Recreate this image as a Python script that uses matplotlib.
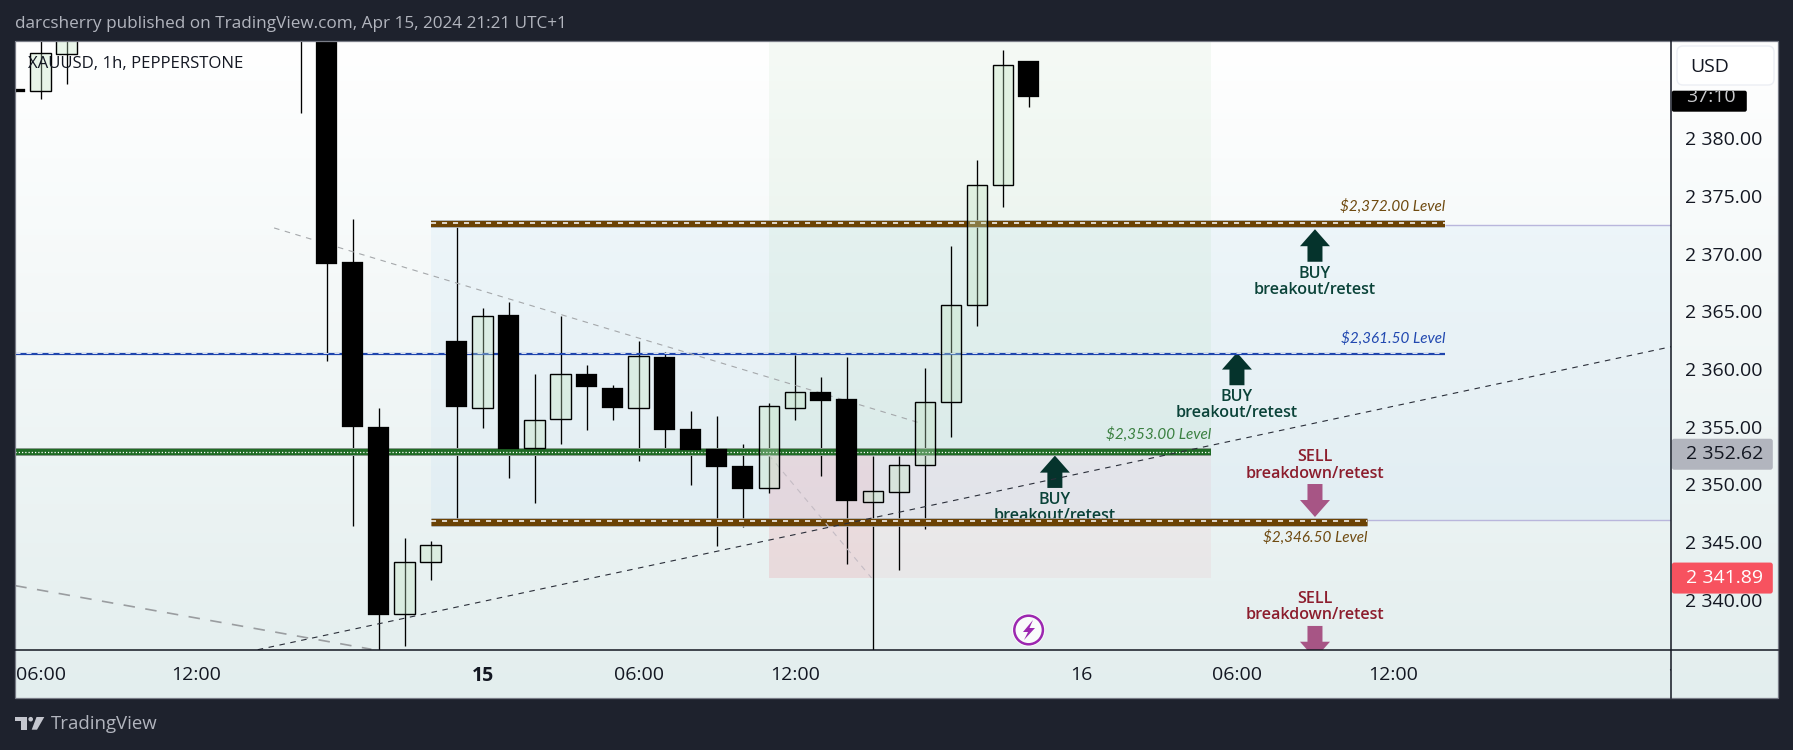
import numpy as np
import matplotlib
matplotlib.use("Agg")
import matplotlib.pyplot as plt
from matplotlib.colors import LinearSegmentedColormap
from matplotlib.patches import Circle, FancyBboxPatch, Polygon, Rectangle
from matplotlib.transforms import Bbox

W, H = 1793, 750
FONT = "Open Sans"

# hourly candles, bar 0 = Apr 15 00:00
bar_index = [-18, -17, -16, -7, -6, -5, -4, -3, -2, -1, 0, 1, 2, 3, 4, 5, 6, 7, 8, 9, 10, 11, 12, 13, 14, 15, 16, 17, 18, 19, 20, 21]
opens = [2384.27, 2384.07, 2387.28, 2400.00, 2395.00, 2369.28, 2354.98, 2338.75, 2343.31, 2362.44, 2356.66, 2364.69, 2353.14, 2355.65, 2359.58, 2358.36,
         2356.60, 2361.05, 2354.81, 2353.08, 2351.60, 2349.72, 2356.66, 2358.02, 2357.41, 2348.51, 2349.38, 2351.66, 2357.12, 2365.53, 2375.93, 2386.70]
closes = [2384.04, 2387.37, 2392.00, 2395.00, 2369.13, 2355.01, 2338.72, 2343.26, 2344.73, 2356.72, 2364.58, 2353.10, 2355.56, 2359.58, 2358.48, 2356.66,
          2361.11, 2354.75, 2353.02, 2351.54, 2349.64, 2356.78, 2357.99, 2357.26, 2348.57, 2349.41, 2351.66, 2357.12, 2365.53, 2375.93, 2386.33, 2383.58]
highs = [2384.27, 2392.00, 2394.00, 2402.00, 2396.00, 2373.01, 2356.63, 2345.36, 2345.10, 2372.34, 2365.27, 2365.81, 2359.58, 2364.60, 2360.36, 2358.62,
         2362.44, 2361.48, 2356.37, 2355.91, 2353.48, 2357.04, 2361.22, 2359.29, 2361.05, 2352.47, 2352.47, 2360.10, 2370.67, 2378.12, 2387.65, 2386.70]
lows = [2384.04, 2383.43, 2384.73, 2382.22, 2360.73, 2346.43, 2335.00, 2336.00, 2341.75, 2346.92, 2354.92, 2350.59, 2348.42, 2353.54, 2354.75, 2355.62,
        2352.06, 2353.19, 2349.98, 2344.70, 2346.34, 2349.29, 2355.62, 2350.76, 2343.14, 2330.00, 2342.62, 2346.17, 2354.14, 2363.76, 2374.07, 2382.74]

price_ticks = [2340, 2345, 2350, 2355, 2360, 2365, 2370, 2375, 2380]
time_ticks = [-17, -11, 0, 6, 12, 23, 29, 35]
time_labels = ["06:00", "12:00", "15", "06:00", "12:00", "16", "06:00", "12:00"]

# level bands: price, right end (bar), label
band_brown_top = 2372.57
band_blue = 2361.31
band_green = 2352.79
band_brown_low = 2346.75
band_left_brown = -2
band_right_top = 37.0
band_right_low = 34.0
band_right_green = 28.0

zone_left, zone_right = 11, 28
zone_mid = 2352.76
zone_low = 2341.87
red_split = 15

box_top = 2372.46
box_low = 2346.90

trend_up_x, trend_up_y = [-8.65, 45.7], [2335.68, 2361.94]
trend_down_x, trend_down_y = [-8.02, 16.87], [2372.23, 2355.29]
trend_red_x, trend_red_y = [11.0, 14.95], [2352.56, 2341.9]
trend_old_x, trend_old_y = [-17.97, -4.28], [2341.23, 2335.72]

buy_x = [32.0, 29.0, 22.0]
buy_tip = [2372.12, 2361.43, 2352.5]
buy_base = [2369.3, 2358.6, 2349.7]
sell_x = [32.0, 32.0]
sell_tip = [2347.18, 2334.9]
sell_base = [2350.04, 2337.74]

last_price = 2352.62
close_price = 2341.89

XMIN, XMAX = -17.97, 45.7
YMIN, YMAX = 2335.63, 2388.43
PANE = (15.3, 41.0, 1671.3, 650.3)


def frac(left, top, right, bottom):
    return [left / W, 1 - bottom / H, (right - left) / W, (bottom - top) / H]


fig = plt.figure(figsize=(W / 100, H / 100), dpi=100, facecolor="#1e222d")

# gradient background, also under the two scales
bg = fig.add_axes(frac(15.3, 41, 1777.7, 697.7), zorder=0)
cmap = LinearSegmentedColormap.from_list("bg", ["#ffffff", "#e3eeee"])
bg.imshow(np.linspace(0, 1, 256).reshape(-1, 1), aspect="auto", cmap=cmap)
bg.axis("off")

ax = fig.add_axes(frac(*PANE), zorder=1)
ax.patch.set_alpha(0)
ax.set_xlim(XMIN, XMAX)
ax.set_ylim(YMIN, YMAX)
for s in ax.spines.values():
    s.set_visible(False)

# tinted zones
ax.fill_between([band_left_brown, XMAX], box_low, box_top, color="#2196f3", alpha=0.045, lw=0, zorder=1)
ax.fill_between([zone_left, zone_right], zone_mid, YMAX, color="#4caf50", alpha=0.055, lw=0, zorder=1)
ax.fill_between([zone_left, zone_right], zone_low, zone_mid, color="#f23645", alpha=0.05, lw=0, zorder=1)
ax.fill_between([zone_left, red_split], zone_low, zone_mid, color="#f23645", alpha=0.07, lw=0, zorder=1)

# thin extensions of the box edges
ax.hlines([box_top], band_right_top, XMAX, color="#b9b6dc", lw=1.0, zorder=1.5)
ax.hlines([box_low], band_right_low, XMAX, color="#b9b6dc", lw=1.0, zorder=1.5)

# wicks sit below the bands, bodies above
ax.vlines(bar_index, lows, highs, color="black", lw=0.95, zorder=2)


def band(y, x0, x1, color, width, dash_offset, dash_style, dash_lw, edge="#a3a6a8"):
    ax.hlines([y], x0, x1, color=edge, lw=(width + 1.6) * 0.72, zorder=3)
    ax.hlines([y], x0, x1, color=color, lw=width * 0.72, zorder=3.1)
    line, = ax.plot([x0, x1], [y + dash_offset, y + dash_offset], color="white", lw=dash_lw, zorder=3.2)
    line.set_dashes(dash_style)
    line.set_dash_capstyle("butt")


band(band_brown_top, band_left_brown, band_right_top, "#6b4204", 6.0, 0.09, (3.3, 3.9), 1.1)
band(band_brown_low, band_left_brown, band_right_low, "#6b4204", 7.0, 0.09, (3.3, 3.9), 1.1)
band(band_green, XMIN, band_right_green, "#1f6b25", 6.4, 0.0, (1.0, 1.6), 0.9)
# blue one is much thinner
ax.hlines([band_blue], XMIN, band_right_top, color="#1f45ad", lw=1.6, zorder=3.1)
blue_line, = ax.plot([XMIN, band_right_top], [band_blue + 0.1] * 2, color="white", lw=0.6, zorder=3.2)
blue_line.set_dashes((6, 7.2))

# candle bodies
for i, o, c in zip(bar_index, opens, closes):
    if c >= o:
        ax.bar(i, c - o, bottom=o, width=0.79, facecolor=(0.76, 0.9, 0.76, 0.34), edgecolor="black", lw=1.0, zorder=4)
    else:
        ax.bar(i, c - o, bottom=o, width=0.81, facecolor="black", edgecolor="black", lw=0.2, zorder=4)

# trend lines
line, = ax.plot(trend_down_x, trend_down_y, color="#a5a8ab", lw=0.8, zorder=3.5)
line.set_dashes((5, 5))
line, = ax.plot(trend_red_x, trend_red_y, color="#c4bcc4", lw=0.8, zorder=3.5)
line.set_dashes((5, 5))
line, = ax.plot(trend_old_x, trend_old_y, color="#9a9da0", lw=1.2, zorder=3.5)
line.set_dashes((6.9, 6.3))
line, = ax.plot(trend_up_x, trend_up_y, color="#2a2e39", lw=0.8, zorder=3.6)
line.set_dashes((5, 5))

# arrows and their captions
BUY_COL, BUY_TXT = "#05332c", "#0b4339"
SELL_COL, SELL_TXT = "#a75585", "#8c1d2d"
arrow_kw = dict(width=15 * 0.72, headwidth=30 * 0.72, headlength=17 * 0.72, shrink=0, lw=0)
pane_box = Bbox.from_extents(15.3, H - 650.3, 1671.3, H - 41.0)
CAP_SIZE = 11.6

for x, tip, base in zip(buy_x, buy_tip, buy_base):
    ax.annotate("", xy=(x, tip), xytext=(x, base), arrowprops=dict(facecolor=BUY_COL, **arrow_kw), zorder=2.8)
    ax.annotate("BUY", xy=(x, base), xytext=(0, -12), textcoords="offset pixels", ha="center", va="center",
                fontsize=CAP_SIZE, color=BUY_TXT, family=FONT, fontweight="semibold", zorder=2.8)
    ax.annotate("breakout/retest", xy=(x, base), xytext=(0, -28), textcoords="offset pixels", ha="center", va="center",
                fontsize=CAP_SIZE, color=BUY_TXT, family=FONT, fontweight="semibold", zorder=2.8)

for x, tip, base in zip(sell_x, sell_tip, sell_base):
    ann = ax.annotate("", xy=(x, tip), xytext=(x, base), arrowprops=dict(facecolor=SELL_COL, **arrow_kw), zorder=2.8,
                      annotation_clip=False)
    ann.arrow_patch.set_clip_box(pane_box)
    ann.arrow_patch.set_clip_on(True)
    ax.annotate("SELL", xy=(x, base), xytext=(0, 27), textcoords="offset pixels", ha="center", va="center",
                fontsize=CAP_SIZE, color=SELL_TXT, family=FONT, fontweight="semibold", zorder=2.8)
    ax.annotate("breakdown/retest", xy=(x, base), xytext=(0, 10.5), textcoords="offset pixels", ha="center", va="center",
                fontsize=CAP_SIZE, color=SELL_TXT, family=FONT, fontweight="semibold", zorder=2.8)

# level labels
LABEL_KW = dict(textcoords="offset pixels", ha="right", va="center", fontsize=11, family="Lato", style="italic", zorder=2.8)
ax.annotate("$2,372.00 Level", xy=(band_right_top, band_brown_top), xytext=(0, 17.5), color="#6f4a10", **LABEL_KW)
ax.annotate("$2,361.50 Level", xy=(band_right_top, band_blue), xytext=(0, 15.5), color="#2148b0", **LABEL_KW)
ax.annotate("$2,353.00 Level", xy=(band_right_green, band_green), xytext=(0, 17.5), color="#3a8040", **LABEL_KW)
ax.annotate("$2,346.50 Level", xy=(band_right_low, band_brown_low), xytext=(0, -15.5), color="#6f4a10", **LABEL_KW)

# scales
ax.yaxis.tick_right()
ax.set_yticks(price_ticks)
ax.set_yticklabels([f"{v:,.2f}".replace(",", " ") for v in price_ticks], fontsize=14, color="#131722", family=FONT)
ax.set_xticks(time_ticks)
ax.set_xticklabels(time_labels, fontsize=14, color="#131722", family=FONT)
ax.tick_params(axis="both", length=0)
ax.tick_params(axis="y", pad=10)
ax.tick_params(axis="x", pad=11.5)
strip_box = Bbox.from_extents(15.3, H - 697.7, 1671.3, H - 650.3)
for lab, txt in zip(ax.get_xticklabels(), time_labels):
    lab.set_clip_box(strip_box)
    lab.set_clip_on(True)
    if txt == "15":
        lab.set_fontweight("bold")

# chrome drawn in pixel coordinates
ov = fig.add_axes([0, 0, 1, 1], zorder=2)
ov.set_xlim(0, W)
ov.set_ylim(H, 0)
ov.axis("off")
ov.patch.set_alpha(0)


def py(price):
    return PANE[1] + (YMAX - price) * (PANE[3] - PANE[1]) / (YMAX - YMIN)


# clipped label of the next day at the pane edge
next_day = ov.text(1678.5, 674.5, "17", ha="center", va="center", fontsize=14, color="#131722", family=FONT)
next_day.set_clip_box(strip_box)
next_day.set_clip_on(True)

ov.plot([15.3, 1777.7], [650.3, 650.3], color="#131722", lw=1.1)
ov.plot([1671.3, 1671.3], [41, 697.7], color="#131722", lw=1.1)
ov.add_patch(Rectangle((15.3, 41), 1762.4, 656.7, fill=False, edgecolor="#787b86", lw=0.9))

# lightning mark
ov.add_patch(Circle((1028.6, 630), 16.5, facecolor="white", edgecolor="none", alpha=0.8))
ov.add_patch(Circle((1028.6, 630), 14.3, facecolor="none", edgecolor="#9c27b0", lw=1.8))
ov.add_patch(Polygon([(1033, 620), (1023, 632), (1028, 632), (1024, 640), (1035, 628), (1029.5, 628)], facecolor="#9c27b0", lw=0))

# USD box
ov.add_patch(FancyBboxPatch((1680, 49), 91, 33, boxstyle="round,pad=3,rounding_size=6", facecolor="white", edgecolor="#eceef4", lw=1))
ov.text(1690.5, 66.5, "USD", ha="left", va="center", fontsize=14, color="#131722", family=FONT)

# countdown tag
ov.add_patch(FancyBboxPatch((1671.8, 90.7), 75, 21, boxstyle="round,pad=0,rounding_size=2", facecolor="black", edgecolor="none"))
count_box = Bbox.from_extents(1671, H - 112, 1747, H - 90.7)
count_txt = ov.text(1711, 97.5, "37:10", ha="center", va="center", fontsize=14, color="#c8c9cc", family=FONT)
count_txt.set_clip_box(count_box)
count_txt.set_clip_on(True)

# price tags
for price, face, col in [(last_price, "#b2b5be", "#131722"), (close_price, "#f7525f", "white")]:
    y = py(price)
    ov.add_patch(FancyBboxPatch((1671.8, y - 15.5), 101, 31, boxstyle="round,pad=0,rounding_size=2.5", facecolor=face, edgecolor="none"))
    ov.text(1685.5, y, f"{price:,.2f}".replace(",", " "), ha="left", va="center", fontsize=14, color=col, family=FONT)

# header, symbol and footer
ov.text(15, 23.5, "darcsherry published on TradingView.com, Apr 15, 2024 21:21 UTC+1", ha="left", va="center",
        fontsize=12.35, color="#b2b5be", family=FONT, fontweight="medium")
ov.text(27.6, 63.5, "XAUUSD, 1h, PEPPERSTONE", ha="left", va="center", fontsize=12.1, color="#131722", family=FONT)
ov.text(50.5, 724, "TradingView", ha="left", va="center", fontsize=13.4, color="#b2b5be", family=FONT)

LOGO = "#c4c6ce"
ov.add_patch(Polygon([(15, 717), (26.7, 717), (26.7, 729.7), (20.7, 729.7), (20.7, 721.3), (15, 721.3)], facecolor=LOGO, lw=0))
ov.add_patch(Circle((30.7, 719.2), 2.3, facecolor=LOGO, lw=0))
ov.add_patch(Polygon([(36.5, 717), (44.3, 717), (37, 729.7), (31.7, 729.7)], facecolor=LOGO, lw=0))

fig.savefig("out.png", dpi=100, facecolor=fig.get_facecolor())
